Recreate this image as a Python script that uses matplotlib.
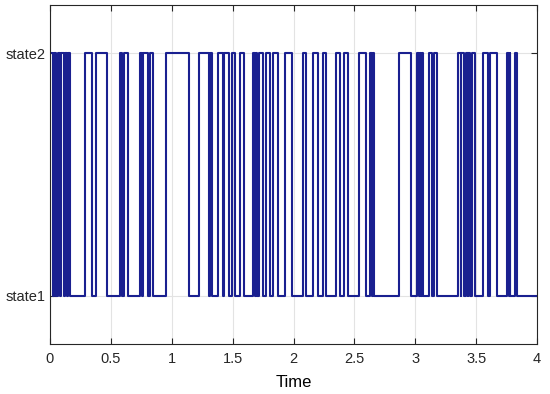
import matplotlib
matplotlib.use("Agg")
import matplotlib.pyplot as plt

plt.rcParams['font.family'] = ['Liberation Sans', 'DejaVu Sans']

# switching times (s) and the state held after each switch
switch_times = [0.0, 0.025, 0.037, 0.053, 0.066, 0.082, 0.094, 0.111, 0.123, 0.140,
                0.148, 0.164, 0.287, 0.345, 0.378, 0.468, 0.575, 0.591, 0.604, 0.641,
                0.739, 0.752, 0.764, 0.805, 0.821, 0.842, 0.953, 1.142, 1.224, 1.306,
                1.314, 1.331, 1.380, 1.421, 1.433, 1.470, 1.495, 1.520, 1.561, 1.593,
                1.667, 1.680, 1.688, 1.700, 1.717, 1.749, 1.774, 1.807, 1.832, 1.873,
                1.930, 1.988, 2.078, 2.103, 2.160, 2.201, 2.242, 2.267, 2.349, 2.382,
                2.415, 2.448, 2.538, 2.595, 2.628, 2.641, 2.649, 2.657, 2.867, 2.965,
                3.014, 3.027, 3.039, 3.047, 3.055, 3.064, 3.113, 3.138, 3.150, 3.179,
                3.351, 3.372, 3.376, 3.400, 3.417, 3.433, 3.437, 3.446, 3.462, 3.491,
                3.556, 3.597, 3.614, 3.671, 3.754, 3.766, 3.774, 3.782, 3.819, 3.836,
                4.0]
states = [2 if i % 2 == 0 else 1 for i in range(len(switch_times) - 1)]
states.append(states[-1])

state_labels = ['state1', 'state2']
x_ticks = [0, 0.5, 1, 1.5, 2, 2.5, 3, 3.5, 4]
x_tick_labels = ['0', '0.5', '1', '1.5', '2', '2.5', '3', '3.5', '4']

fig = plt.figure(figsize=(5.5, 3.94), dpi=100)
ax = fig.add_axes([0.0909, 0.127, 0.8855, 0.861])

ax.step(switch_times, states, where='post', color='#1a2090', lw=1.5)

ax.set_xlim(0, 4)
ax.set_ylim(0.8, 2.2)
ax.set_xticks(x_ticks)
ax.set_xticklabels(x_tick_labels)
ax.set_yticks([1, 2])
ax.set_yticklabels(state_labels)
ax.set_xlabel('Time', fontsize=12, labelpad=6)
ax.tick_params(direction='in', length=4, labelsize=10.5, color='#262626',
               labelcolor='#262626', top=True, right=True)
ax.tick_params(axis='x', pad=6)
ax.grid(True, color='#e3e3e3', lw=0.8)
ax.set_axisbelow(True)
for s in ax.spines.values():
    s.set_color('#262626')
    s.set_linewidth(0.8)

fig.savefig('out.png', dpi=100)
